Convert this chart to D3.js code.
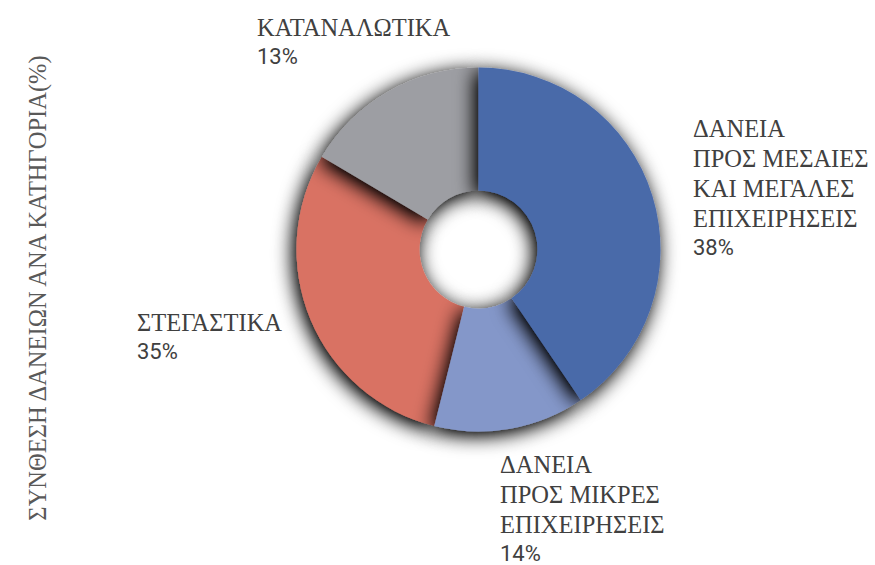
<!DOCTYPE html>
<html>
<head>
<meta charset="utf-8">
<script src="https://cdn.jsdelivr.net/npm/d3@7/dist/d3.min.js"></script>
<style>
  html, body { margin: 0; padding: 0; background: #fff; }
  svg { display: block; }
</style>
</head>
<body>
<svg id="chart" width="875" height="565"></svg>
<script>
var WIDTH = 875
  , HEIGHT = 565
  , SERIF = "Liberation Serif"
  , SANS = "Roboto"

// slice order, clockwise from 12 o'clock
var categories = [
    ['ΔΑΝΕΙΑ', 'ΠΡΟΣ ΜΕΣΑΙΕΣ', 'ΚΑΙ ΜΕΓΑΛΕΣ', 'ΕΠΙΧΕΙΡΗΣΕΙΣ']
  , ['ΔΑΝΕΙΑ', 'ΠΡΟΣ ΜΙΚΡΕΣ', 'ΕΠΙΧΕΙΡΗΣΕΙΣ']
  , ['ΣΤΕΓΑΣΤΙΚΑ']
  , ['ΚΑΤΑΝΑΛΩΤΙΚΑ']
]

// printed percentages
var percentLabels = ['38%', '14%', '35%', '13%']

// sector sizes as drawn in the picture (share of the ring, %)
var shares = [40.5, 13.4, 29.6, 16.5]

var colors = ['#4a6aa9', '#8497c9', '#d97263', '#9d9ea3']

var title = 'ΣΥΝΘΕΣΗ ΔΑΝΕΙΩΝ ΑΝΑ ΚΑΤΗΓΟΡΙΑ(%)'

var cx = 478.5
  , cy = 249.5
  , outerR = 182
  , innerR = 59
  , LINE = 30

// label anchor (left x, first baseline) for each slice
var labelPos = [
    {x: 693, y: 137}
  , {x: 500, y: 473}
  , {x: 137, y: 331}
  , {x: 257, y: 36}
]

var svg = d3.select('#chart')
var defs = svg.append('defs')

var shadow = defs.append('filter')
  .attr('id', 'shade')
  .attr('x', '-40%')
  .attr('y', '-40%')
  .attr('width', '180%')
  .attr('height', '180%')

shadow.append('feGaussianBlur')
  .attr('in', 'SourceAlpha')
  .attr('stdDeviation', 10)
  .attr('result', 'blur')

shadow.append('feOffset')
  .attr('in', 'blur')
  .attr('dx', -3)
  .attr('dy', 4)
  .attr('result', 'off')

shadow.append('feComponentTransfer')
  .attr('in', 'off')
  .attr('result', 'soft')
  .append('feFuncA')
    .attr('type', 'linear')
    .attr('slope', 1.2)

var merge = shadow.append('feMerge')
merge.append('feMergeNode').attr('in', 'soft')
merge.append('feMergeNode').attr('in', 'SourceGraphic')

var pie = d3.pie()
  .sort(null)
  .value(function(d) { return d })
  .startAngle(0)
  .endAngle(2 * Math.PI)

var arc = d3.arc()
  .innerRadius(innerR)
  .outerRadius(outerR)

var slices = pie(shares).map(function(s, i) {
  s.color = colors[i]
  return s
})

// lower slices first so the upper ones cast shadow over them
var drawOrder = [2, 1, 3, 0]

svg.append('g')
  .attr('transform', 'translate(' + cx + ',' + cy + ')')
  .selectAll('path')
  .data(drawOrder.map(function(i) { return slices[i] }))
  .enter()
    .append('path')
    .attr('d', arc)
    .attr('fill', function(d) { return d.color })
    .attr('filter', 'url(#shade)')

// labels
var labels = svg.append('g')
  .selectAll('g')
  .data(categories)
  .enter()
    .append('g')
    .attr('transform', function(d, i) {
      return 'translate(' + labelPos[i].x + ',' + labelPos[i].y + ')'
    })

labels.each(function(lines, i) {
  var g = d3.select(this)

  g.selectAll('text.name')
    .data(lines)
    .enter()
      .append('text')
      .attr('class', 'name')
      .attr('x', 0)
      .attr('y', function(d, j) { return j * LINE })
      .attr('font-family', SERIF)
      .attr('font-size', '24.5px')
      .attr('fill', '#404040')
      .text(function(d) { return d })

  g.append('text')
    .attr('x', 0)
    .attr('y', lines.length * LINE - 2)
    .attr('font-family', SANS)
    .attr('font-size', '22px')
    .attr('fill', '#404040')
    .text(percentLabels[i])
})

svg.append('text')
  .attr('transform', 'translate(46,288) rotate(-90)')
  .attr('text-anchor', 'middle')
  .attr('font-family', SERIF)
  .attr('font-size', '24.5px')
  .attr('fill', '#595959')
  .text(title)
</script>
</body>
</html>
